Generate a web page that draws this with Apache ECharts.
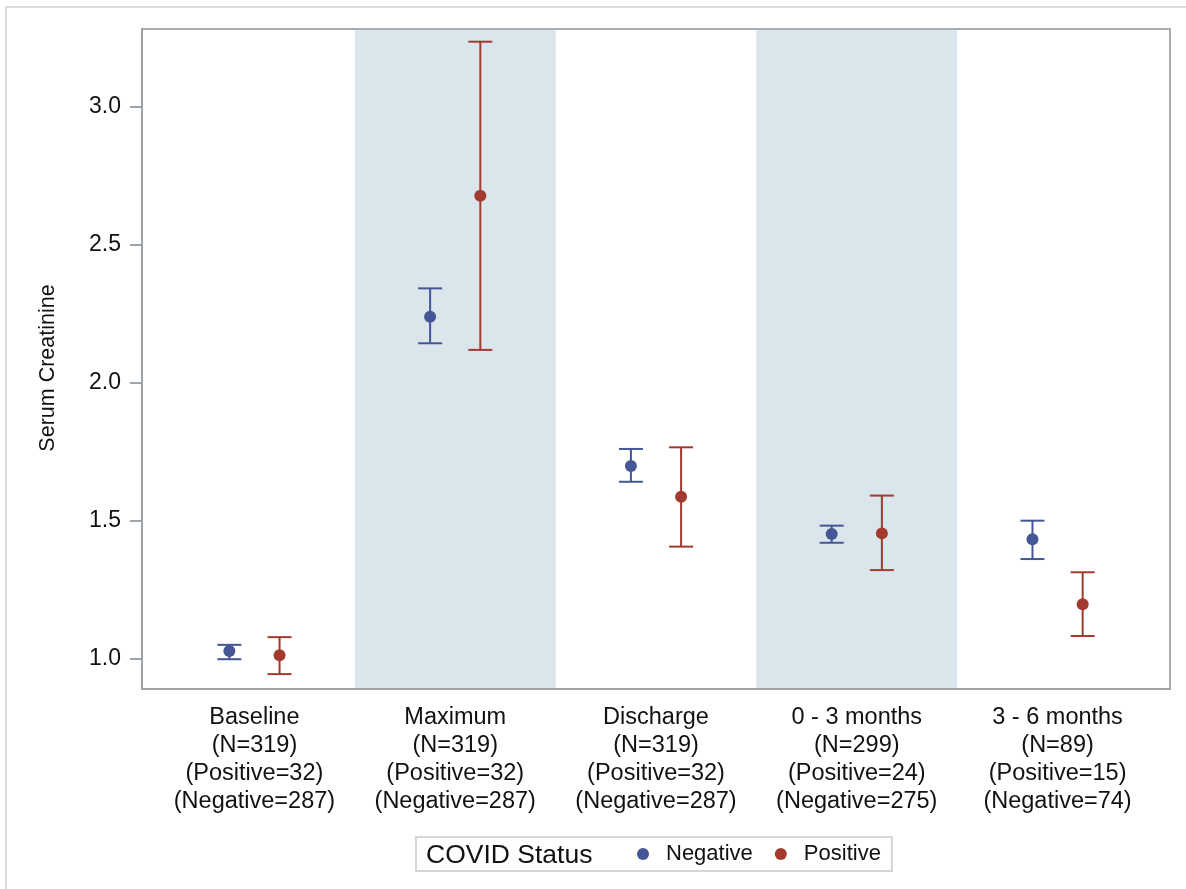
<!DOCTYPE html>
<html>
<head>
<meta charset="utf-8">
<script src="https://cdn.jsdelivr.net/npm/echarts@6/dist/echarts.min.js"></script>
<style>
  html, body { margin: 0; padding: 0; background: #fff; }
  #chart { width: 1186px; height: 889px; }
</style>
</head>
<body>
<div id="chart"></div>
<script>
// time points and group sizes
const stages = ['Baseline', 'Maximum', 'Discharge', '0 - 3 months', '3 - 6 months']
const nTotal = [319, 319, 319, 299, 89]
const nPositive = [32, 32, 32, 24, 15]
const nNegative = [287, 287, 287, 275, 74]

// COVID negative: mean and error bar limits
const negMean = [1.029, 2.240, 1.699, 1.453, 1.434]
const negLow = [0.999, 2.144, 1.642, 1.421, 1.362]
const negHigh = [1.051, 2.343, 1.761, 1.483, 1.501]

// COVID positive
const posMean = [1.013, 2.679, 1.588, 1.455, 1.198]
const posLow = [0.945, 2.120, 1.407, 1.322, 1.083]
const posHigh = [1.079, 3.237, 1.767, 1.592, 1.314]

const shaded = [1, 3]
const yTicks = [1.0, 1.5, 2.0, 2.5, 3.0]

const FONT = '"Liberation Sans", Arial, Helvetica, sans-serif'
const BLUE = '#445694'
const RED = '#a23a2e'

const labels = stages.map((s, i) =>
    s + '\n(N=' + nTotal[i] + ')\n(Positive=' + nPositive[i] + ')\n(Negative=' + nNegative[i] + ')')

function errorBarSeries(name, color, mean, low, high, shift) {
    return {
        type: 'custom',
        name: name,
        itemStyle: { color: color },
        z: 3,
        data: mean.map((m, i) => [i + shift, m, low[i], high[i]]),
        renderItem: function (params, api) {
            const x = api.value(0)
            const pm = api.coord([x, api.value(1)])
            const pl = api.coord([x, api.value(2)])
            const ph = api.coord([x, api.value(3)])
            const cap = 12
            const st = { stroke: color, lineWidth: 2 }
            return {
                type: 'group',
                children: [
                    { type: 'line', shape: { x1: pl[0], y1: pl[1], x2: ph[0], y2: ph[1] }, style: st },
                    { type: 'line', shape: { x1: ph[0] - cap, y1: ph[1], x2: ph[0] + cap, y2: ph[1] }, style: st },
                    { type: 'line', shape: { x1: pl[0] - cap, y1: pl[1], x2: pl[0] + cap, y2: pl[1] }, style: st },
                    { type: 'circle', shape: { cx: pm[0], cy: pm[1], r: 6 }, style: { fill: color } }
                ]
            }
        }
    }
}

const myChart = echarts.init(document.getElementById('chart'))

myChart.setOption({
    backgroundColor: '#fff',
    animation: false,
    graphic: [{
        type: 'rect',
        shape: { x: 6, y: 7, width: 1400, height: 1200 },
        style: { fill: 'none', stroke: '#dcdcdc', lineWidth: 2 },
        silent: true
    }],
    title: {
        text: 'COVID Status',
        left: 426,
        top: 842,
        padding: 0,
        textStyle: { fontFamily: FONT, fontSize: 26.5, fontWeight: 'normal', color: '#111' }
    },
    legend: {
        left: 416,
        top: 837,
        padding: [6, 11, 6, 221],
        borderColor: '#d6d6d6',
        borderWidth: 2,
        itemWidth: 12,
        itemHeight: 12,
        itemGap: 22,
        data: [{ name: 'Negative', icon: 'circle' }, { name: 'Positive', icon: 'circle' }],
        textStyle: { fontFamily: FONT, fontSize: 22, color: '#111', padding: [0, 0, 0, 12] }
    },
    grid: {
        left: 142, top: 29, right: 16, bottom: 200,
        show: true,
        borderColor: '#a8adb2',
        borderWidth: 2
    },
    xAxis: {
        type: 'value',
        min: -0.56,
        max: 4.56,
        splitLine: { show: false },
        axisLine: { show: true, onZero: false, lineStyle: { color: '#9ea3a8', width: 2 } },
        axisTick: { show: false },
        axisLabel: {
            customValues: [0, 1, 2, 3, 4],
            formatter: v => labels[Math.round(v)],
            fontFamily: FONT,
            fontSize: 23.5,
            lineHeight: 28,
            color: '#111',
            margin: 15
        }
    },
    yAxis: {
        type: 'value',
        min: 0.891,
        max: 3.283,
        name: 'Serum Creatinine',
        nameLocation: 'middle',
        nameGap: 83,
        nameTextStyle: { fontFamily: FONT, fontSize: 21.5, color: '#111', padding: [0, 18, 0, 0] },
        splitLine: { show: false },
        axisLine: { show: true, onZero: false, lineStyle: { color: '#9ea3a8', width: 2 } },
        axisTick: { show: true, length: 12, customValues: yTicks, lineStyle: { color: '#9ea3a8', width: 2 } },
        axisLabel: {
            customValues: yTicks,
            formatter: v => v.toFixed(1),
            fontFamily: FONT,
            fontSize: 23,
            color: '#111',
            margin: 21
        }
    },
    series: [
        {
            type: 'custom',
            z: 1,
            silent: true,
            data: shaded.map(i => [i]),
            renderItem: function (params, api) {
                const i = api.value(0)
                const a = api.coord([i - 0.5, 0])
                const b = api.coord([i + 0.5, 0])
                const cs = params.coordSys
                return {
                    type: 'rect',
                    shape: { x: a[0], y: cs.y + 1, width: b[0] - a[0], height: cs.height - 2 },
                    style: { fill: '#dbe5ec' }
                }
            }
        },
        errorBarSeries('Negative', BLUE, negMean, negLow, negHigh, -0.125),
        errorBarSeries('Positive', RED, posMean, posLow, posHigh, 0.125)
    ]
})
</script>
</body>
</html>
